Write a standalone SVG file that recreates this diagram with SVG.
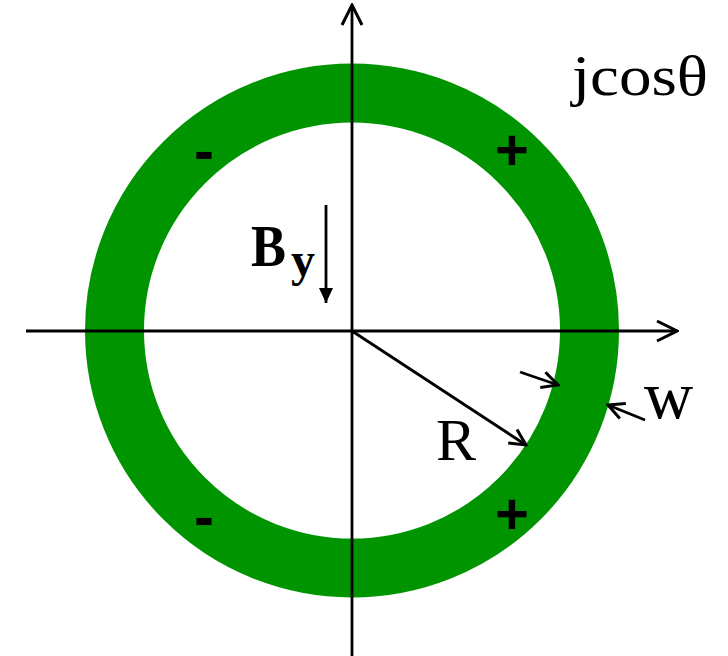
<svg xmlns="http://www.w3.org/2000/svg" width="728" height="656" viewBox="0 0 728 656">
<style>
.ax{stroke:#000;stroke-width:2.8;fill:none}
.ln{stroke:#000;stroke-width:2.8;fill:none}
.serif{font-family:"Liberation Serif","DejaVu Serif",serif;fill:#000}
.sign{font-family:"Liberation Sans","DejaVu Sans",sans-serif;fill:#000}
</style>
<defs>
<marker id="open" markerUnits="userSpaceOnUse" viewBox="-22 -12 24 24" refX="0" refY="0" markerWidth="24" markerHeight="24" orient="auto">
<path d="M-20,-10 L0,0 L-20,10" fill="none" stroke="#000" stroke-width="3"/>
</marker>
<marker id="openS" markerUnits="userSpaceOnUse" viewBox="-19 -11 21 22" refX="0" refY="0" markerWidth="21" markerHeight="22" orient="auto">
<path d="M-16,-8 L0,0 L-16,8" fill="none" stroke="#000" stroke-width="3"/>
</marker>
<marker id="fill" markerUnits="userSpaceOnUse" viewBox="-16 -8 17 16" refX="0" refY="0" markerWidth="17" markerHeight="16" orient="auto">
<path d="M-15,-7 L0,0 L-15,7 Z" fill="#000"/>
</marker>
</defs>
<rect width="728" height="656" fill="#fff"/>
<g id="ring">
<circle cx="352" cy="330.5" r="237.5" fill="none" stroke="#009500" stroke-width="59"/>
</g>
<g id="connectors">
<line class="ax" x1="26" y1="331" x2="677" y2="331" marker-end="url(#open)"/>
<line class="ax" x1="352" y1="656" x2="352" y2="5" marker-end="url(#open)"/>
<line class="ln" x1="352" y1="331" x2="526" y2="445" marker-end="url(#openS)"/>
<line class="ln" x1="520" y1="372" x2="558" y2="385" marker-end="url(#openS)"/>
<line class="ln" x1="645" y1="420" x2="608" y2="405" marker-end="url(#openS)"/>
<line class="ln" x1="326" y1="205" x2="326" y2="303" stroke-width="2" marker-end="url(#fill)"/>
</g>
<g id="labels">
<text class="serif" x="572" y="95" font-size="56" textLength="136" lengthAdjust="spacingAndGlyphs">jcosθ</text>
<text class="serif" x="251" y="266" font-size="60" font-weight="bold" textLength="35" lengthAdjust="spacingAndGlyphs">B</text>
<text class="serif" x="291" y="276" font-size="48" font-weight="bold">y</text>
<text class="serif" x="436" y="460" font-size="60">R</text>
<text class="serif" x="644" y="418" font-size="68">w</text>
<text class="sign" x="512" y="170" font-size="58" font-weight="bold" text-anchor="middle">+</text>
<text class="sign" x="512" y="534" font-size="58" font-weight="bold" text-anchor="middle">+</text>
<text class="sign" x="204" y="171" font-size="60" font-weight="bold" text-anchor="middle">-</text>
<text class="sign" x="204" y="537" font-size="60" font-weight="bold" text-anchor="middle">-</text>
</g>
</svg>
